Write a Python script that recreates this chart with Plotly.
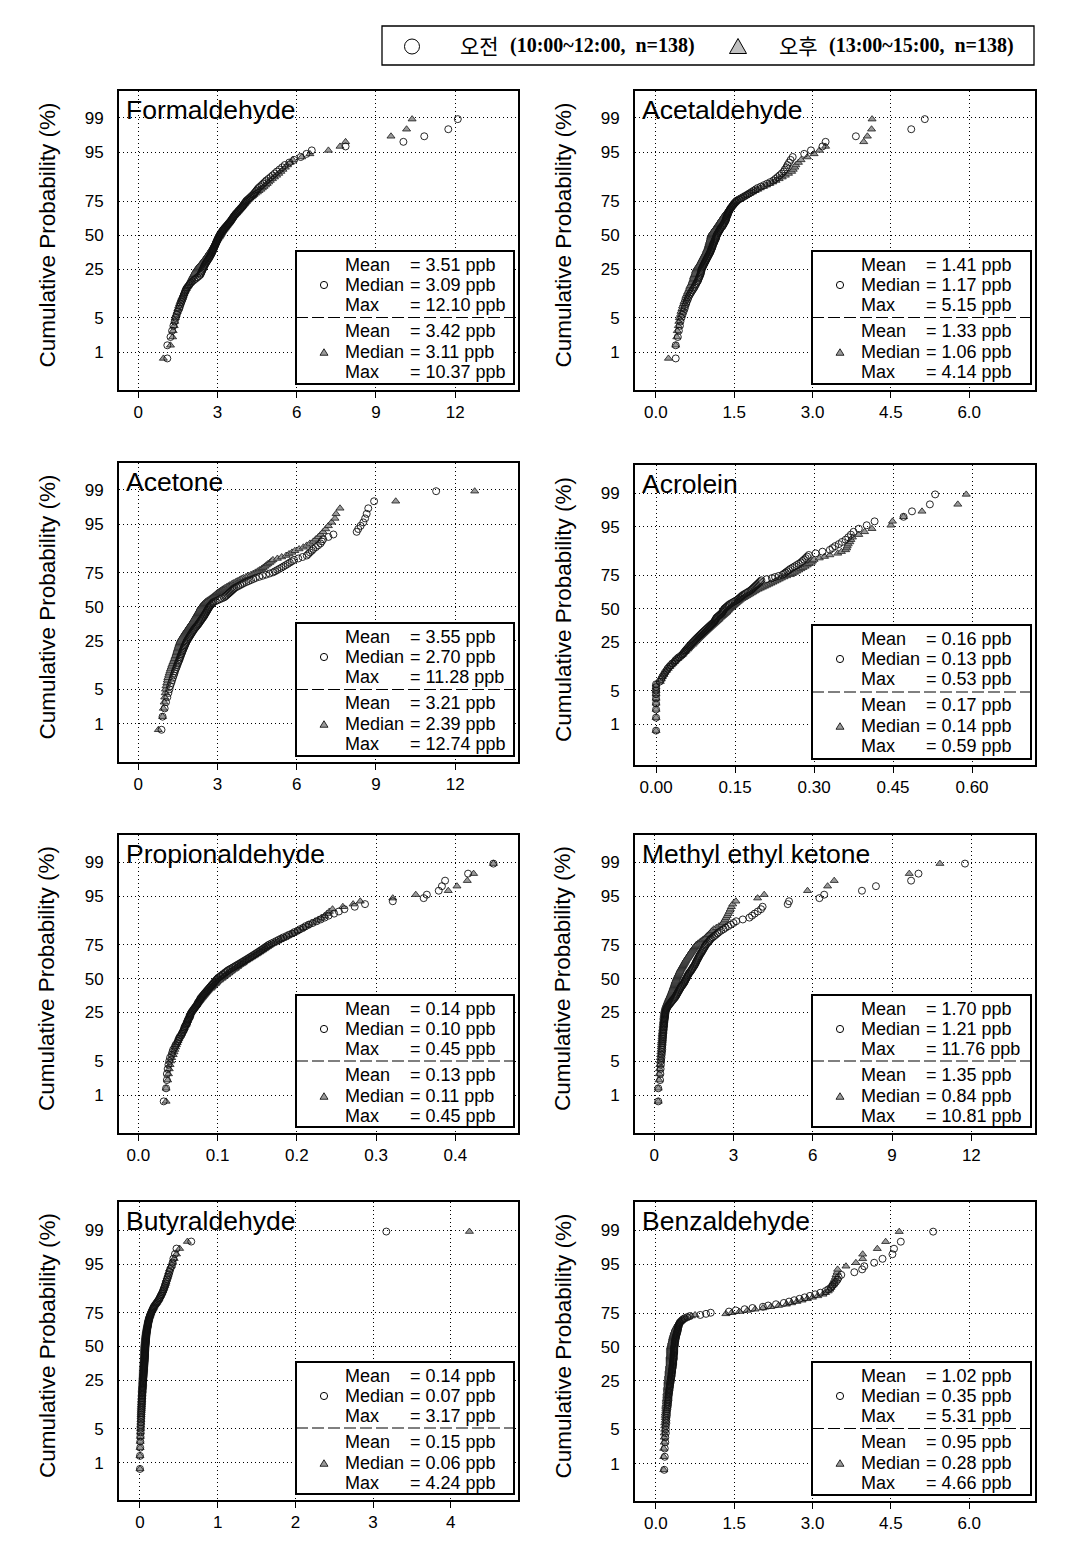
import plotly.graph_objects as go
from statistics import NormalDist

PAGE_W, PAGE_H = 1067, 1559
OFFSET = 8          # default body margin of the html page
W, H = PAGE_W - OFFSET, PAGE_H - OFFSET
N_SAMPLES = 138

compound_names = ["Formaldehyde", "Acetaldehyde", "Acetone", "Acrolein",
                  "Propionaldehyde", "Methyl ethyl ketone", "Butyraldehyde", "Benzaldehyde"]

prob_ticks = [1, 5, 25, 50, 75, 95, 99]

# ---- sorted concentrations (ppb) ----
formaldehyde_am = [
    1.10, 1.10, 1.22, 1.28, 1.33, 1.38, 1.42, 1.46, 1.50, 1.55,
    1.58, 1.61, 1.64, 1.67, 1.70, 1.72, 1.74, 1.77, 1.79, 1.82,
    1.86, 1.91, 1.95, 2.00, 2.05, 2.12, 2.18, 2.24, 2.30, 2.35,
    2.37, 2.39, 2.41, 2.43, 2.45, 2.47, 2.49, 2.51, 2.53, 2.55,
    2.58, 2.60, 2.63, 2.65, 2.68, 2.70, 2.72, 2.74, 2.76, 2.78,
    2.80, 2.81, 2.83, 2.84, 2.86, 2.87, 2.89, 2.90, 2.92, 2.93,
    2.94, 2.96, 2.97, 2.99, 3.00, 3.02, 3.04, 3.05, 3.07, 3.09,
    3.11, 3.13, 3.16, 3.18, 3.20, 3.23, 3.26, 3.29, 3.32, 3.35,
    3.38, 3.41, 3.44, 3.47, 3.50, 3.52, 3.55, 3.57, 3.60, 3.62,
    3.65, 3.68, 3.71, 3.75, 3.78, 3.81, 3.85, 3.88, 3.92, 3.95,
    3.98, 4.01, 4.04, 4.07, 4.10, 4.15, 4.20, 4.25, 4.30, 4.35,
    4.39, 4.43, 4.47, 4.51, 4.55, 4.61, 4.67, 4.73, 4.79, 4.85,
    4.93, 5.01, 5.09, 5.17, 5.25, 5.35, 5.45, 5.55, 5.72, 5.90,
    6.15, 6.37, 6.57, 7.85, 10.04, 10.83, 11.74, 12.10]
formaldehyde_pm = [
    0.95, 1.22, 1.30, 1.32, 1.36, 1.38, 1.40, 1.43, 1.47, 1.50,
    1.53, 1.56, 1.59, 1.62, 1.65, 1.69, 1.72, 1.75, 1.79, 1.82,
    1.85, 1.88, 1.91, 1.94, 1.97, 2.00, 2.02, 2.05, 2.07, 2.10,
    2.12, 2.15, 2.17, 2.20, 2.22, 2.26, 2.29, 2.33, 2.36, 2.40,
    2.43, 2.46, 2.49, 2.52, 2.55, 2.58, 2.60, 2.63, 2.65, 2.68,
    2.70, 2.73, 2.75, 2.78, 2.80, 2.82, 2.84, 2.86, 2.88, 2.90,
    2.92, 2.94, 2.96, 2.98, 3.00, 3.02, 3.04, 3.07, 3.09, 3.11,
    3.13, 3.15, 3.17, 3.20, 3.22, 3.25, 3.27, 3.30, 3.32, 3.35,
    3.37, 3.40, 3.43, 3.45, 3.48, 3.50, 3.53, 3.55, 3.58, 3.60,
    3.64, 3.67, 3.71, 3.74, 3.78, 3.81, 3.85, 3.88, 3.92, 3.95,
    3.98, 4.02, 4.05, 4.09, 4.12, 4.17, 4.22, 4.28, 4.33, 4.38,
    4.44, 4.51, 4.57, 4.64, 4.70, 4.76, 4.82, 4.88, 4.94, 5.00,
    5.08, 5.16, 5.24, 5.32, 5.40, 5.48, 5.57, 5.65, 5.75, 5.85,
    6.19, 6.50, 7.20, 7.64, 7.85, 9.57, 10.16, 10.37]

acetaldehyde_am = [
    0.38, 0.38, 0.42, 0.44, 0.46, 0.47, 0.49, 0.51, 0.53, 0.55,
    0.56, 0.58, 0.59, 0.61, 0.62, 0.64, 0.66, 0.68, 0.70, 0.72,
    0.74, 0.75, 0.77, 0.78, 0.80, 0.81, 0.82, 0.83, 0.84, 0.85,
    0.86, 0.86, 0.87, 0.87, 0.88, 0.89, 0.90, 0.91, 0.92, 0.93,
    0.94, 0.95, 0.96, 0.97, 0.98, 0.99, 1.00, 1.01, 1.02, 1.03,
    1.04, 1.05, 1.05, 1.06, 1.07, 1.08, 1.08, 1.09, 1.09, 1.10,
    1.11, 1.12, 1.12, 1.13, 1.14, 1.15, 1.15, 1.16, 1.16, 1.17,
    1.18, 1.19, 1.20, 1.21, 1.22, 1.23, 1.24, 1.25, 1.27, 1.28,
    1.29, 1.30, 1.31, 1.32, 1.33, 1.34, 1.34, 1.35, 1.35, 1.36,
    1.37, 1.38, 1.38, 1.39, 1.40, 1.41, 1.42, 1.43, 1.45, 1.46,
    1.48, 1.49, 1.51, 1.53, 1.55, 1.59, 1.63, 1.67, 1.71, 1.75,
    1.79, 1.83, 1.87, 1.91, 1.95, 2.01, 2.07, 2.13, 2.19, 2.25,
    2.29, 2.33, 2.37, 2.41, 2.45, 2.47, 2.50, 2.52, 2.55, 2.58,
    2.62, 2.84, 2.97, 3.19, 3.25, 3.83, 4.89, 5.15]
acetaldehyde_pm = [
    0.24, 0.38, 0.40, 0.41, 0.43, 0.44, 0.45, 0.47, 0.48, 0.50,
    0.51, 0.53, 0.54, 0.56, 0.57, 0.58, 0.60, 0.61, 0.63, 0.64,
    0.65, 0.66, 0.68, 0.69, 0.70, 0.71, 0.72, 0.72, 0.73, 0.74,
    0.75, 0.76, 0.76, 0.77, 0.78, 0.79, 0.81, 0.82, 0.84, 0.85,
    0.86, 0.87, 0.88, 0.89, 0.90, 0.91, 0.92, 0.93, 0.94, 0.95,
    0.96, 0.97, 0.97, 0.98, 0.99, 1.00, 1.00, 1.01, 1.01, 1.02,
    1.02, 1.03, 1.03, 1.04, 1.04, 1.05, 1.05, 1.05, 1.06, 1.06,
    1.07, 1.08, 1.09, 1.11, 1.12, 1.13, 1.14, 1.16, 1.17, 1.18,
    1.19, 1.20, 1.22, 1.23, 1.24, 1.25, 1.26, 1.28, 1.29, 1.30,
    1.31, 1.33, 1.34, 1.36, 1.37, 1.39, 1.40, 1.42, 1.43, 1.45,
    1.47, 1.49, 1.51, 1.53, 1.55, 1.59, 1.63, 1.67, 1.71, 1.75,
    1.80, 1.85, 1.90, 1.95, 2.00, 2.06, 2.12, 2.18, 2.24, 2.30,
    2.36, 2.42, 2.48, 2.54, 2.60, 2.63, 2.66, 2.68, 2.73, 2.78,
    2.90, 3.03, 3.13, 3.25, 3.98, 4.05, 4.13, 4.14]

acetone_am = [
    0.88, 0.92, 1.00, 1.05, 1.10, 1.14, 1.18, 1.21, 1.25, 1.28,
    1.31, 1.34, 1.37, 1.39, 1.42, 1.45, 1.47, 1.50, 1.52, 1.55,
    1.57, 1.59, 1.61, 1.63, 1.65, 1.67, 1.69, 1.71, 1.73, 1.75,
    1.77, 1.79, 1.81, 1.83, 1.85, 1.88, 1.90, 1.93, 1.95, 1.98,
    2.00, 2.03, 2.05, 2.08, 2.10, 2.13, 2.16, 2.19, 2.22, 2.25,
    2.28, 2.30, 2.33, 2.35, 2.38, 2.40, 2.43, 2.45, 2.48, 2.50,
    2.52, 2.54, 2.56, 2.58, 2.60, 2.62, 2.64, 2.66, 2.68, 2.70,
    2.73, 2.76, 2.79, 2.82, 2.85, 2.93, 3.01, 3.09, 3.17, 3.25,
    3.29, 3.33, 3.37, 3.41, 3.45, 3.49, 3.53, 3.57, 3.61, 3.65,
    3.72, 3.79, 3.86, 3.93, 4.00, 4.09, 4.18, 4.27, 4.36, 4.45,
    4.58, 4.71, 4.84, 4.97, 5.10, 5.18, 5.26, 5.34, 5.42, 5.50,
    5.58, 5.66, 5.74, 5.82, 5.90, 6.06, 6.22, 6.38, 6.44, 6.50,
    6.57, 6.63, 6.72, 6.81, 6.90, 6.95, 7.00, 7.20, 7.39, 8.27,
    8.33, 8.42, 8.52, 8.59, 8.65, 8.71, 8.93, 11.28]
acetone_pm = [
    0.76, 0.92, 0.95, 0.98, 1.00, 1.02, 1.03, 1.05, 1.08, 1.10,
    1.12, 1.15, 1.17, 1.20, 1.22, 1.25, 1.27, 1.30, 1.32, 1.35,
    1.37, 1.39, 1.41, 1.43, 1.45, 1.46, 1.48, 1.49, 1.51, 1.52,
    1.54, 1.55, 1.57, 1.58, 1.60, 1.62, 1.65, 1.67, 1.70, 1.72,
    1.75, 1.77, 1.80, 1.82, 1.85, 1.88, 1.90, 1.93, 1.95, 1.98,
    2.00, 2.03, 2.05, 2.08, 2.10, 2.12, 2.14, 2.16, 2.18, 2.20,
    2.22, 2.24, 2.26, 2.28, 2.30, 2.32, 2.34, 2.35, 2.37, 2.39,
    2.42, 2.45, 2.48, 2.52, 2.55, 2.60, 2.65, 2.70, 2.75, 2.80,
    2.84, 2.88, 2.92, 2.96, 3.00, 3.06, 3.11, 3.17, 3.22, 3.28,
    3.34, 3.41, 3.47, 3.54, 3.60, 3.68, 3.75, 3.83, 3.90, 3.98,
    4.08, 4.17, 4.27, 4.36, 4.44, 4.52, 4.59, 4.67, 4.73, 4.79,
    4.85, 4.91, 4.98, 5.04, 5.10, 5.27, 5.43, 5.60, 5.71, 5.82,
    5.93, 6.09, 6.25, 6.38, 6.50, 6.63, 6.72, 6.82, 6.91, 7.00,
    7.10, 7.20, 7.32, 7.45, 7.49, 7.64, 9.75, 12.74]

acrolein_am = [
    0.000, 0.000, 0.000, 0.000, 0.000, 0.000, 0.000, 0.000, 0.000, 0.007,
    0.010, 0.012, 0.015, 0.017, 0.020, 0.022, 0.025, 0.028, 0.031, 0.035,
    0.037, 0.040, 0.043, 0.047, 0.050, 0.052, 0.054, 0.056, 0.058, 0.060,
    0.062, 0.064, 0.066, 0.068, 0.070, 0.072, 0.074, 0.076, 0.078, 0.080,
    0.082, 0.084, 0.086, 0.088, 0.090, 0.092, 0.094, 0.096, 0.098, 0.100,
    0.102, 0.104, 0.106, 0.108, 0.110, 0.111, 0.112, 0.113, 0.114, 0.115,
    0.117, 0.119, 0.121, 0.123, 0.125, 0.126, 0.127, 0.128, 0.129, 0.130,
    0.132, 0.134, 0.136, 0.138, 0.140, 0.143, 0.146, 0.149, 0.152, 0.155,
    0.157, 0.159, 0.161, 0.163, 0.165, 0.168, 0.171, 0.174, 0.177, 0.180,
    0.182, 0.184, 0.186, 0.188, 0.190, 0.192, 0.194, 0.196, 0.198, 0.200,
    0.210, 0.220, 0.226, 0.233, 0.240, 0.243, 0.246, 0.249, 0.252, 0.255,
    0.259, 0.263, 0.267, 0.271, 0.275, 0.278, 0.281, 0.284, 0.287, 0.290,
    0.303, 0.316, 0.330, 0.335, 0.340, 0.347, 0.353, 0.360, 0.365, 0.370,
    0.375, 0.385, 0.400, 0.415, 0.470, 0.486, 0.520, 0.530]
acrolein_pm = [
    0.000, 0.000, 0.000, 0.000, 0.000, 0.000, 0.000, 0.000, 0.000, 0.008,
    0.010, 0.012, 0.015, 0.017, 0.020, 0.023, 0.026, 0.029, 0.032, 0.035,
    0.038, 0.041, 0.044, 0.047, 0.050, 0.052, 0.055, 0.057, 0.060, 0.062,
    0.064, 0.066, 0.069, 0.071, 0.073, 0.075, 0.077, 0.079, 0.081, 0.083,
    0.085, 0.087, 0.089, 0.091, 0.093, 0.095, 0.097, 0.099, 0.101, 0.103,
    0.105, 0.107, 0.109, 0.111, 0.113, 0.115, 0.117, 0.119, 0.120, 0.122,
    0.124, 0.126, 0.128, 0.130, 0.132, 0.134, 0.135, 0.137, 0.138, 0.140,
    0.142, 0.144, 0.146, 0.148, 0.150, 0.152, 0.154, 0.156, 0.158, 0.160,
    0.163, 0.166, 0.169, 0.172, 0.175, 0.178, 0.181, 0.184, 0.187, 0.190,
    0.194, 0.198, 0.202, 0.206, 0.210, 0.214, 0.218, 0.222, 0.226, 0.230,
    0.234, 0.238, 0.243, 0.248, 0.255, 0.259, 0.263, 0.267, 0.271, 0.275,
    0.279, 0.283, 0.287, 0.291, 0.295, 0.297, 0.300, 0.310, 0.320, 0.330,
    0.345, 0.352, 0.360, 0.362, 0.363, 0.365, 0.368, 0.370, 0.373, 0.385,
    0.396, 0.410, 0.446, 0.449, 0.470, 0.505, 0.573, 0.589]

propionaldehyde_am = [
    0.032, 0.035, 0.036, 0.036, 0.037, 0.038, 0.039, 0.040, 0.042, 0.043,
    0.044, 0.046, 0.047, 0.049, 0.050, 0.051, 0.052, 0.054, 0.055, 0.056,
    0.057, 0.058, 0.058, 0.059, 0.060, 0.061, 0.062, 0.062, 0.063, 0.064,
    0.065, 0.065, 0.066, 0.066, 0.067, 0.068, 0.069, 0.070, 0.071, 0.072,
    0.073, 0.074, 0.075, 0.075, 0.076, 0.077, 0.078, 0.078, 0.079, 0.080,
    0.081, 0.082, 0.083, 0.084, 0.085, 0.086, 0.087, 0.088, 0.089, 0.090,
    0.091, 0.092, 0.093, 0.094, 0.095, 0.096, 0.097, 0.098, 0.099, 0.100,
    0.101, 0.103, 0.104, 0.106, 0.107, 0.109, 0.110, 0.112, 0.113, 0.115,
    0.117, 0.119, 0.121, 0.123, 0.125, 0.127, 0.129, 0.131, 0.133, 0.135,
    0.137, 0.139, 0.141, 0.143, 0.145, 0.147, 0.149, 0.151, 0.153, 0.155,
    0.157, 0.159, 0.161, 0.163, 0.165, 0.168, 0.171, 0.174, 0.177, 0.180,
    0.183, 0.187, 0.190, 0.194, 0.197, 0.201, 0.204, 0.208, 0.211, 0.215,
    0.220, 0.225, 0.230, 0.235, 0.240, 0.247, 0.253, 0.260, 0.273, 0.286,
    0.321, 0.360, 0.364, 0.379, 0.383, 0.387, 0.416, 0.448]
propionaldehyde_pm = [
    0.035, 0.035, 0.037, 0.038, 0.039, 0.040, 0.041, 0.042, 0.044, 0.045,
    0.046, 0.047, 0.048, 0.049, 0.050, 0.051, 0.052, 0.053, 0.054, 0.055,
    0.056, 0.057, 0.058, 0.059, 0.060, 0.061, 0.061, 0.062, 0.062, 0.063,
    0.064, 0.064, 0.065, 0.065, 0.066, 0.067, 0.068, 0.069, 0.070, 0.071,
    0.072, 0.073, 0.074, 0.075, 0.076, 0.077, 0.078, 0.079, 0.080, 0.081,
    0.082, 0.083, 0.084, 0.085, 0.086, 0.087, 0.088, 0.089, 0.091, 0.092,
    0.093, 0.094, 0.095, 0.097, 0.098, 0.099, 0.100, 0.102, 0.103, 0.105,
    0.106, 0.108, 0.109, 0.111, 0.112, 0.114, 0.115, 0.117, 0.118, 0.120,
    0.122, 0.123, 0.125, 0.126, 0.128, 0.130, 0.132, 0.133, 0.135, 0.137,
    0.139, 0.141, 0.143, 0.145, 0.147, 0.149, 0.151, 0.153, 0.155, 0.157,
    0.159, 0.161, 0.163, 0.165, 0.167, 0.170, 0.173, 0.176, 0.179, 0.182,
    0.185, 0.188, 0.192, 0.195, 0.198, 0.201, 0.205, 0.208, 0.212, 0.215,
    0.219, 0.223, 0.227, 0.231, 0.235, 0.238, 0.241, 0.245, 0.258, 0.271,
    0.280, 0.321, 0.350, 0.391, 0.402, 0.415, 0.423, 0.448]

mek_am = [
    0.15, 0.15, 0.22, 0.23, 0.24, 0.25, 0.26, 0.27, 0.28, 0.29,
    0.30, 0.30, 0.31, 0.31, 0.32, 0.32, 0.33, 0.33, 0.34, 0.34,
    0.35, 0.35, 0.36, 0.36, 0.37, 0.37, 0.38, 0.38, 0.39, 0.40,
    0.40, 0.41, 0.41, 0.42, 0.42, 0.43, 0.44, 0.46, 0.48, 0.50,
    0.53, 0.56, 0.59, 0.62, 0.65, 0.68, 0.71, 0.74, 0.77, 0.80,
    0.82, 0.84, 0.86, 0.88, 0.90, 0.92, 0.94, 0.96, 0.98, 1.00,
    1.02, 1.05, 1.07, 1.10, 1.12, 1.14, 1.16, 1.17, 1.19, 1.21,
    1.23, 1.25, 1.26, 1.28, 1.30, 1.32, 1.35, 1.37, 1.40, 1.42,
    1.44, 1.46, 1.49, 1.51, 1.53, 1.55, 1.57, 1.58, 1.60, 1.62,
    1.64, 1.66, 1.68, 1.70, 1.72, 1.74, 1.77, 1.79, 1.82, 1.84,
    1.86, 1.89, 1.91, 1.94, 1.96, 2.00, 2.04, 2.08, 2.11, 2.15,
    2.21, 2.27, 2.33, 2.39, 2.45, 2.53, 2.62, 2.70, 2.80, 2.90,
    3.00, 3.10, 3.35, 3.60, 3.70, 3.80, 3.92, 4.04, 4.10, 5.05,
    5.10, 6.25, 6.43, 7.86, 8.39, 9.72, 10.00, 11.76]
mek_pm = [
    0.15, 0.15, 0.18, 0.19, 0.20, 0.21, 0.22, 0.23, 0.24, 0.25,
    0.26, 0.26, 0.27, 0.27, 0.28, 0.29, 0.29, 0.30, 0.30, 0.31,
    0.32, 0.32, 0.33, 0.33, 0.34, 0.34, 0.35, 0.35, 0.36, 0.36,
    0.36, 0.37, 0.37, 0.38, 0.38, 0.39, 0.40, 0.41, 0.42, 0.43,
    0.44, 0.46, 0.47, 0.49, 0.50, 0.52, 0.53, 0.55, 0.56, 0.58,
    0.60, 0.61, 0.63, 0.64, 0.66, 0.67, 0.68, 0.70, 0.71, 0.72,
    0.73, 0.75, 0.76, 0.77, 0.78, 0.79, 0.80, 0.82, 0.83, 0.84,
    0.86, 0.87, 0.89, 0.90, 0.92, 0.94, 0.95, 0.97, 0.98, 1.00,
    1.02, 1.04, 1.06, 1.08, 1.10, 1.12, 1.14, 1.16, 1.18, 1.20,
    1.22, 1.25, 1.27, 1.30, 1.32, 1.35, 1.37, 1.40, 1.42, 1.45,
    1.48, 1.51, 1.54, 1.57, 1.60, 1.66, 1.72, 1.78, 1.84, 1.90,
    1.95, 2.00, 2.05, 2.10, 2.15, 2.20, 2.25, 2.35, 2.45, 2.55,
    2.60, 2.65, 2.68, 2.72, 2.76, 2.80, 2.84, 2.88, 2.92, 2.97,
    3.09, 3.91, 4.16, 5.80, 6.56, 6.81, 9.65, 10.81]

butyraldehyde_am = [
    0.000, 0.000, 0.003, 0.004, 0.006, 0.008, 0.010, 0.011, 0.013, 0.014,
    0.015, 0.016, 0.017, 0.019, 0.020, 0.021, 0.022, 0.023, 0.024, 0.025,
    0.026, 0.027, 0.028, 0.029, 0.030, 0.031, 0.032, 0.033, 0.034, 0.035,
    0.036, 0.037, 0.038, 0.039, 0.040, 0.041, 0.042, 0.043, 0.044, 0.045,
    0.046, 0.047, 0.048, 0.049, 0.050, 0.051, 0.052, 0.053, 0.054, 0.055,
    0.056, 0.057, 0.058, 0.059, 0.060, 0.060, 0.061, 0.062, 0.062, 0.063,
    0.064, 0.065, 0.065, 0.066, 0.067, 0.068, 0.068, 0.069, 0.069, 0.070,
    0.071, 0.072, 0.073, 0.074, 0.075, 0.076, 0.077, 0.078, 0.079, 0.080,
    0.081, 0.082, 0.083, 0.084, 0.085, 0.087, 0.089, 0.091, 0.093, 0.095,
    0.097, 0.099, 0.101, 0.103, 0.105, 0.108, 0.111, 0.114, 0.117, 0.120,
    0.125, 0.130, 0.135, 0.140, 0.145, 0.152, 0.159, 0.166, 0.173, 0.180,
    0.192, 0.204, 0.216, 0.228, 0.240, 0.250, 0.260, 0.270, 0.280, 0.290,
    0.298, 0.306, 0.314, 0.322, 0.330, 0.340, 0.350, 0.360, 0.370, 0.380,
    0.390, 0.410, 0.420, 0.430, 0.450, 0.470, 0.660, 3.170]
butyraldehyde_pm = [
    0.000, 0.000, 0.002, 0.003, 0.005, 0.006, 0.008, 0.009, 0.011, 0.012,
    0.013, 0.014, 0.015, 0.016, 0.017, 0.018, 0.019, 0.020, 0.021, 0.022,
    0.023, 0.024, 0.025, 0.026, 0.027, 0.028, 0.029, 0.030, 0.031, 0.032,
    0.033, 0.034, 0.034, 0.035, 0.036, 0.037, 0.038, 0.038, 0.039, 0.040,
    0.041, 0.042, 0.042, 0.043, 0.044, 0.045, 0.046, 0.046, 0.047, 0.048,
    0.049, 0.050, 0.050, 0.051, 0.052, 0.053, 0.053, 0.054, 0.054, 0.055,
    0.056, 0.056, 0.057, 0.057, 0.058, 0.058, 0.059, 0.059, 0.060, 0.060,
    0.061, 0.062, 0.063, 0.064, 0.065, 0.066, 0.067, 0.068, 0.069, 0.070,
    0.072, 0.073, 0.075, 0.076, 0.078, 0.080, 0.082, 0.084, 0.086, 0.088,
    0.090, 0.093, 0.095, 0.098, 0.100, 0.103, 0.106, 0.109, 0.112, 0.115,
    0.120, 0.125, 0.130, 0.135, 0.140, 0.148, 0.156, 0.164, 0.172, 0.180,
    0.191, 0.202, 0.213, 0.224, 0.235, 0.244, 0.253, 0.262, 0.271, 0.280,
    0.290, 0.300, 0.310, 0.320, 0.330, 0.335, 0.340, 0.350, 0.360, 0.370,
    0.380, 0.400, 0.420, 0.440, 0.470, 0.510, 0.610, 4.240]

benzaldehyde_am = [
    0.16, 0.17, 0.17, 0.18, 0.18, 0.19, 0.19, 0.19, 0.20, 0.20,
    0.20, 0.21, 0.21, 0.21, 0.22, 0.22, 0.23, 0.23, 0.23, 0.24,
    0.24, 0.24, 0.24, 0.25, 0.25, 0.25, 0.26, 0.26, 0.26, 0.27,
    0.27, 0.27, 0.28, 0.28, 0.28, 0.29, 0.29, 0.29, 0.30, 0.30,
    0.30, 0.30, 0.31, 0.31, 0.31, 0.31, 0.32, 0.32, 0.32, 0.32,
    0.33, 0.33, 0.33, 0.33, 0.33, 0.34, 0.34, 0.34, 0.34, 0.34,
    0.34, 0.34, 0.35, 0.35, 0.35, 0.35, 0.35, 0.35, 0.35, 0.35,
    0.36, 0.36, 0.36, 0.36, 0.36, 0.37, 0.37, 0.37, 0.38, 0.38,
    0.38, 0.39, 0.39, 0.40, 0.40, 0.41, 0.41, 0.42, 0.42, 0.42,
    0.43, 0.43, 0.44, 0.44, 0.45, 0.46, 0.48, 0.50, 0.52, 0.55,
    0.60, 0.65, 0.85, 0.96, 1.05, 1.40, 1.53, 1.70, 1.85, 2.05,
    2.15, 2.30, 2.45, 2.55, 2.65, 2.75, 2.85, 2.95, 3.05, 3.15,
    3.25, 3.30, 3.35, 3.38, 3.42, 3.45, 3.48, 3.50, 3.55, 3.80,
    3.95, 3.99, 4.18, 4.34, 4.53, 4.56, 4.69, 5.31]
benzaldehyde_pm = [
    0.15, 0.15, 0.15, 0.16, 0.16, 0.16, 0.17, 0.17, 0.17, 0.18,
    0.18, 0.18, 0.18, 0.19, 0.19, 0.19, 0.19, 0.20, 0.20, 0.20,
    0.20, 0.21, 0.21, 0.21, 0.21, 0.22, 0.22, 0.22, 0.22, 0.22,
    0.23, 0.23, 0.23, 0.23, 0.23, 0.24, 0.24, 0.24, 0.24, 0.24,
    0.25, 0.25, 0.25, 0.25, 0.25, 0.26, 0.26, 0.26, 0.26, 0.26,
    0.27, 0.27, 0.27, 0.27, 0.27, 0.27, 0.27, 0.27, 0.27, 0.27,
    0.28, 0.28, 0.28, 0.28, 0.28, 0.28, 0.28, 0.28, 0.28, 0.28,
    0.29, 0.29, 0.30, 0.30, 0.30, 0.31, 0.31, 0.32, 0.32, 0.32,
    0.33, 0.33, 0.34, 0.34, 0.35, 0.35, 0.36, 0.37, 0.37, 0.38,
    0.39, 0.40, 0.41, 0.42, 0.43, 0.45, 0.47, 0.50, 0.53, 0.57,
    0.62, 0.68, 0.75, 1.34, 1.45, 1.60, 1.75, 1.90, 2.05, 2.20,
    2.35, 2.50, 2.60, 2.70, 2.80, 2.90, 3.00, 3.10, 3.20, 3.25,
    3.30, 3.33, 3.35, 3.37, 3.39, 3.40, 3.42, 3.44, 3.45, 3.47,
    3.48, 3.64, 3.83, 3.96, 3.96, 4.24, 4.40, 4.66]

series_am = [formaldehyde_am, acetaldehyde_am, acetone_am, acrolein_am,
             propionaldehyde_am, mek_am, butyraldehyde_am, benzaldehyde_am]
series_pm = [formaldehyde_pm, acetaldehyde_pm, acetone_pm, acrolein_pm,
             propionaldehyde_pm, mek_pm, butyraldehyde_pm, benzaldehyde_pm]

# summary statistics printed in the boxes
mean_am = ["3.51", "1.41", "3.55", "0.16", "0.14", "1.70", "0.14", "1.02"]
median_am = ["3.09", "1.17", "2.70", "0.13", "0.10", "1.21", "0.07", "0.35"]
max_am = ["12.10", "5.15", "11.28", "0.53", "0.45", "11.76", "3.17", "5.31"]
mean_pm = ["3.42", "1.33", "3.21", "0.17", "0.13", "1.35", "0.15", "0.95"]
median_pm = ["3.11", "1.06", "2.39", "0.14", "0.11", "0.84", "0.06", "0.28"]
max_pm = ["10.37", "4.14", "12.74", "0.59", "0.45", "10.81", "4.24", "4.66"]

# x-axis ticks
x_tickvals = [[0, 3, 6, 9, 12], [0, 1.5, 3, 4.5, 6], [0, 3, 6, 9, 12],
              [0, 0.15, 0.30, 0.45, 0.60], [0, 0.1, 0.2, 0.3, 0.4],
              [0, 3, 6, 9, 12], [0, 1, 2, 3, 4], [0, 1.5, 3, 4.5, 6]]
x_ticktext = [["0", "3", "6", "9", "12"], ["0.0", "1.5", "3.0", "4.5", "6.0"],
              ["0", "3", "6", "9", "12"], ["0.00", "0.15", "0.30", "0.45", "0.60"],
              ["0.0", "0.1", "0.2", "0.3", "0.4"], ["0", "3", "6", "9", "12"],
              ["0", "1", "2", "3", "4"], ["0.0", "1.5", "3.0", "4.5", "6.0"]]

# ---- layout geometry (page pixels) ----
panel_px = [(119, 91, 518, 390), (635, 91, 1035, 390),
            (119, 463, 518, 762), (635, 465, 1035, 765),
            (119, 835, 518, 1133), (635, 835, 1035, 1133),
            (119, 1202, 518, 1500), (635, 1202, 1035, 1501)]
x_ranges = [[-0.73, 14.38], [-0.40, 7.26], [-0.73, 14.38], [-0.040, 0.7196],
            [-0.0244, 0.479], [-0.73, 14.41], [-0.27, 4.865], [-0.40, 7.26]]
y_ranges = [[-3.075, 2.857], [-3.075, 2.857], [-3.09, 2.86], [-3.14, 2.89],
            [-3.08, 2.87], [-3.08, 2.87], [-3.07, 2.89], [-3.07, 2.89]]

FONT = "Arial, 'Liberation Sans', sans-serif"


def fx(px):
    return (px - OFFSET) / W


def fy(py):
    return 1 - (py - OFFSET) / H


nd = NormalDist()
z_rank = [nd.inv_cdf(i / (N_SAMPLES + 1.5)) for i in range(1, N_SAMPLES + 1)]
z_ticks = [nd.inv_cdf(p / 100) for p in prob_ticks]

fig = go.Figure()
axes = {}
annotations = []
shapes = []


def circle_shape(cx, cy, r, fill="rgba(0,0,0,0)", width=1):
    return dict(type="circle", xref="paper", yref="paper",
                x0=fx(cx - r), x1=fx(cx + r), y0=fy(cy + r), y1=fy(cy - r),
                line=dict(color="black", width=width), fillcolor=fill, layer="above")


def triangle_shape(cx, cy, half_w, h, fill, width=1):
    path = "M {:.5f} {:.5f} L {:.5f} {:.5f} L {:.5f} {:.5f} Z".format(
        fx(cx - half_w), fy(cy + h / 2), fx(cx + half_w), fy(cy + h / 2), fx(cx), fy(cy - h / 2))
    return dict(type="path", xref="paper", yref="paper", path=path,
                line=dict(color="black", width=width), fillcolor=fill, layer="above")


def text(x, y, s, size=18, xanchor="left", family=FONT, angle=0, yanchor="middle"):
    annotations.append(dict(x=fx(x), y=fy(y), xref="paper", yref="paper", text=s,
                            showarrow=False, xanchor=xanchor, yanchor=yanchor,
                            textangle=angle, font=dict(family=family, size=size, color="black")))


for k, name in enumerate(compound_names):
    left, top, right, bottom = panel_px[k]
    idx = "" if k == 0 else str(k + 1)
    xref, yref = "x" + idx, "y" + idx

    fig.add_trace(go.Scatter(
        x=series_pm[k], y=z_rank, xaxis=xref, yaxis=yref, mode="markers",
        name="오후", showlegend=False, cliponaxis=True,
        marker=dict(symbol="triangle-up", size=7, color="#9a9a9a",
                    line=dict(color="#1a1a1a", width=0.8))))
    fig.add_trace(go.Scatter(
        x=series_am[k], y=z_rank, xaxis=xref, yaxis=yref, mode="markers",
        name="오전", showlegend=False, cliponaxis=True,
        marker=dict(symbol="circle", size=7, color="rgba(255,255,255,0)",
                    line=dict(color="#111111", width=0.9))))

    axes["xaxis" + idx] = dict(
        domain=[fx(left), fx(right)], range=x_ranges[k], anchor=yref,
        tickvals=x_tickvals[k], ticktext=x_ticktext[k],
        showgrid=True, gridcolor="black", gridwidth=1, griddash="1px,3px",
        showline=True, mirror=True, linecolor="black", linewidth=2,
        ticks="outside", ticklen=6, tickwidth=1, tickcolor="black",
        tickfont=dict(family=FONT, size=17, color="black"),
        zeroline=False, automargin=False, fixedrange=True)
    axes["yaxis" + idx] = dict(
        domain=[fy(bottom), fy(top)], range=y_ranges[k], anchor=xref,
        tickvals=z_ticks, ticktext=[str(p) for p in prob_ticks],
        showgrid=True, gridcolor="black", gridwidth=1, griddash="1px,3px",
        showline=True, mirror=True, linecolor="black", linewidth=2,
        ticks="outside", ticklen=10, tickcolor="rgba(0,0,0,0)",
        tickfont=dict(family=FONT, size=17, color="black"),
        zeroline=False, automargin=False, fixedrange=True)

    # panel title
    text(left + 5, top + 2, name, size=26.5, yanchor="top")
    # y-axis title
    text(left - 72, (top + bottom) / 2 - 5, "Cumulative Probability (%)", size=22.5,
         xanchor="center", angle=-90)

    # statistics box
    bx0, bx1 = left + 177, right - 4
    by0, by1 = top + 160, bottom - 6
    shapes.append(dict(type="rect", xref="paper", yref="paper",
                       x0=fx(bx0), x1=fx(bx1), y0=fy(by1), y1=fy(by0),
                       line=dict(color="black", width=2), fillcolor="white", layer="above"))
    ymid = (by0 + by1) / 2
    shapes.append(dict(type="line", xref="paper", yref="paper",
                       x0=fx(bx0), x1=fx(bx1), y0=fy(ymid), y1=fy(ymid),
                       line=dict(color="black", width=1, dash="12px,4px"), layer="above"))
    row_offsets = [13.7, 34, 54, 80, 101, 121]
    labels = ["Mean", "Median", "Max", "Mean", "Median", "Max"]
    values = [mean_am[k], median_am[k], max_am[k], mean_pm[k], median_pm[k], max_pm[k]]
    for off, lab, val in zip(row_offsets, labels, values):
        text(bx0 + 47, by0 + off, lab, size=18)
        text(bx0 + 112, by0 + off, "= " + val + " ppb", size=18)
    shapes.append(circle_shape(bx0 + 28, by0 + row_offsets[1], 3.6, width=1))
    shapes.append(triangle_shape(bx0 + 28, by0 + row_offsets[4], 4, 6.5, "#9a9a9a", width=0.8))

# ---- top legend ----
shapes.append(dict(type="rect", xref="paper", yref="paper",
                   x0=fx(382), x1=fx(1034), y0=fy(65), y1=fy(26),
                   line=dict(color="black", width=1.3), fillcolor="white"))
shapes.append(circle_shape(412, 46.5, 7.5, width=1))
shapes.append(triangle_shape(738, 46, 8.5, 15, "#c0c0c0", width=1))
KFONT = "'Noto Sans CJK KR', sans-serif"
SFONT = "'Times New Roman', 'Liberation Serif', serif"
text(458, 45, "오전", size=21, family=KFONT)
text(508, 46, "<b>(10:00~12:00,  n=138)</b>", size=20, family=SFONT)
text(777, 45, "오후", size=21, family=KFONT)
text(827, 46, "<b>(13:00~15:00,  n=138)</b>", size=20, family=SFONT)

fig.update_layout(
    width=W, height=H, margin=dict(l=0, r=0, t=0, b=0),
    paper_bgcolor="white", plot_bgcolor="white",
    showlegend=False, annotations=annotations, shapes=shapes,
    font=dict(family=FONT, color="black"),
    **axes)

fig.write_html("out.html")
